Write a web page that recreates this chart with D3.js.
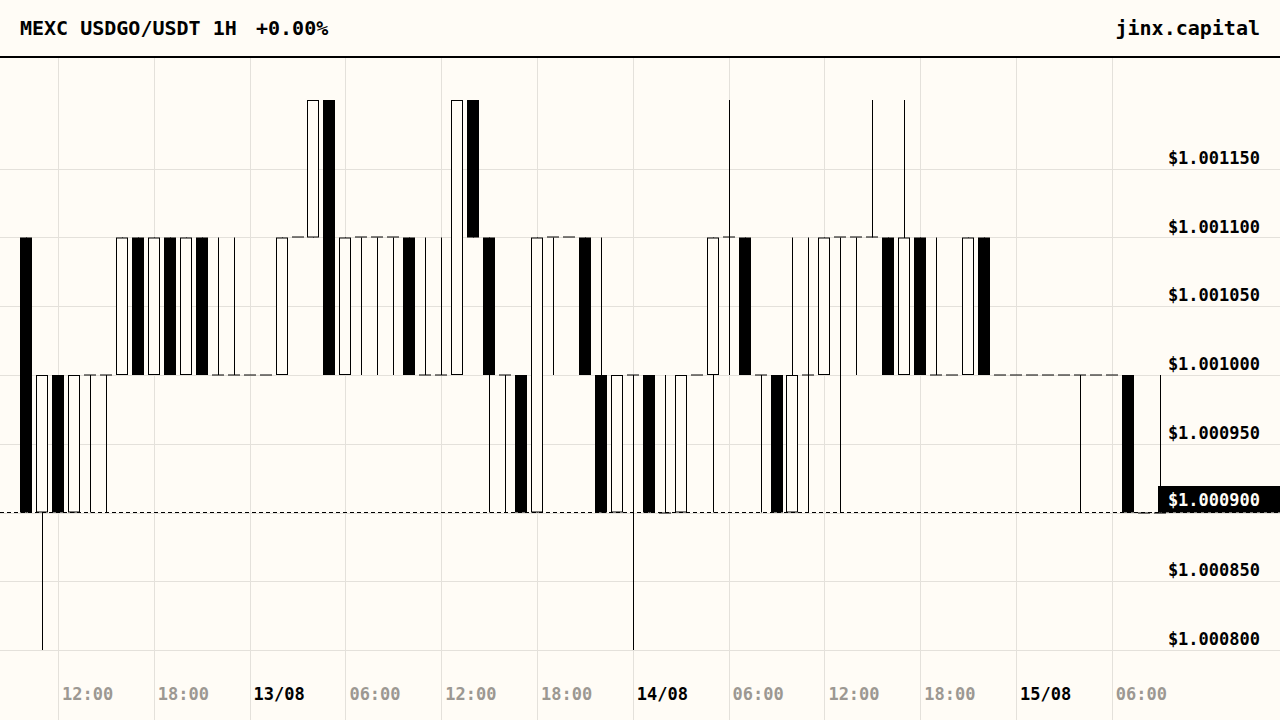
<!DOCTYPE html>
<html>
<head>
<meta charset="utf-8">
<script src="https://cdn.jsdelivr.net/npm/d3@7"></script>
<style>
  html, body { margin: 0; padding: 0; background: #fffcf6; }
  svg { display: block; }
  text { font-family: "DejaVu Sans Mono", monospace; font-weight: bold; }
</style>
</head>
<body>
<div id="chart"></div>
<script>
// hourly candles, 12/08 10:00 -> 15/08 09:00 (UTC)
var startTime = Date.UTC(2025, 7, 12, 10);
var open = [
  1.0011, 1.0009, 1.0010, 1.0009, 1.0010, 1.0010, 1.0010, 1.0011, 1.0010, 1.0011,
  1.0010, 1.0011, 1.0010, 1.0010, 1.0010, 1.0010, 1.0010, 1.0011, 1.0011, 1.0012,
  1.0010, 1.0011, 1.0011, 1.0011, 1.0011, 1.0010, 1.0010, 1.0010, 1.0012, 1.0011,
  1.0010, 1.0010, 1.0009, 1.0011, 1.0011, 1.0011, 1.0010, 1.0009, 1.0010, 1.0010,
  1.0009, 1.0009, 1.0010, 1.0010, 1.0011, 1.0011, 1.0010, 1.0010, 1.0009, 1.0010,
  1.0010, 1.0011, 1.0011, 1.0011, 1.0011, 1.0010, 1.0011, 1.0010, 1.0010, 1.0010,
  1.0011, 1.0010, 1.0010, 1.0010, 1.0010, 1.0010, 1.0010, 1.0010, 1.0010, 1.0010,
  1.0009, 1.0009
];
var high = [
  1.0011, 1.0010, 1.0010, 1.0010, 1.0010, 1.0010, 1.0011, 1.0011, 1.0011, 1.0011,
  1.0011, 1.0011, 1.0011, 1.0011, 1.0010, 1.0010, 1.0011, 1.0011, 1.0012, 1.0012,
  1.0011, 1.0011, 1.0011, 1.0011, 1.0011, 1.0011, 1.0011, 1.0012, 1.0012, 1.0011,
  1.0010, 1.0010, 1.0011, 1.0011, 1.0011, 1.0011, 1.0011, 1.0010, 1.0010, 1.0010,
  1.0010, 1.0010, 1.0010, 1.0011, 1.0012, 1.0011, 1.0010, 1.0010, 1.0011, 1.0011,
  1.0011, 1.0011, 1.0011, 1.0012, 1.0011, 1.0012, 1.0011, 1.0011, 1.0010, 1.0011,
  1.0011, 1.0010, 1.0010, 1.0010, 1.0010, 1.0010, 1.0010, 1.0010, 1.0010, 1.0010,
  1.0009, 1.0010
];
var low = [
  1.0009, 1.0008, 1.0009, 1.0009, 1.0009, 1.0009, 1.0010, 1.0010, 1.0010, 1.0010,
  1.0010, 1.0010, 1.0010, 1.0010, 1.0010, 1.0010, 1.0010, 1.0011, 1.0011, 1.0010,
  1.0010, 1.0010, 1.0010, 1.0010, 1.0010, 1.0010, 1.0010, 1.0010, 1.0011, 1.0009,
  1.0009, 1.0009, 1.0009, 1.0010, 1.0011, 1.0010, 1.0009, 1.0009, 1.0008, 1.0009,
  1.0009, 1.0009, 1.0010, 1.0009, 1.0010, 1.0010, 1.0009, 1.0009, 1.0009, 1.0009,
  1.0010, 1.0009, 1.0010, 1.0011, 1.0010, 1.0010, 1.0010, 1.0010, 1.0010, 1.0010,
  1.0010, 1.0010, 1.0010, 1.0010, 1.0010, 1.0010, 1.0009, 1.0010, 1.0010, 1.0009,
  1.0009, 1.0009
];
var close = [
  1.0009, 1.0010, 1.0009, 1.0010, 1.0010, 1.0010, 1.0011, 1.0010, 1.0011, 1.0010,
  1.0011, 1.0010, 1.0010, 1.0010, 1.0010, 1.0010, 1.0011, 1.0011, 1.0012, 1.0010,
  1.0011, 1.0011, 1.0011, 1.0011, 1.0010, 1.0010, 1.0010, 1.0012, 1.0011, 1.0010,
  1.0010, 1.0009, 1.0011, 1.0011, 1.0011, 1.0010, 1.0009, 1.0010, 1.0010, 1.0009,
  1.0009, 1.0010, 1.0010, 1.0011, 1.0011, 1.0010, 1.0010, 1.0009, 1.0010, 1.0010,
  1.0011, 1.0011, 1.0011, 1.0011, 1.0010, 1.0011, 1.0010, 1.0010, 1.0010, 1.0011,
  1.0010, 1.0010, 1.0010, 1.0010, 1.0010, 1.0010, 1.0010, 1.0010, 1.0010, 1.0009,
  1.0009, 1.0009
];
var priceTicks = [1.00080, 1.00085, 1.00090, 1.00095, 1.00100, 1.00105, 1.00110, 1.00115];
var title = "MEXC USDGO/USDT 1H";
var change = "+0.00%";
var brand = "jinx.capital";

var data = open.map(function (o, i) {
  return { t: new Date(startTime + i * 3600e3), o: o, h: high[i], l: low[i], c: close[i] };
});

var W = 1280, H = 720;
var bg = "#fffcf6", grid = "#e4e1db", muted = "#9c9892";
var plotTop = 58;

var svg = d3.select("#chart").append("svg")
  .attr("width", W).attr("height", H);
svg.append("rect").attr("width", W).attr("height", H).attr("fill", bg);

// scales
var x = d3.scaleUtc()
  .domain([new Date(Date.UTC(2025, 7, 12, 12)), new Date(Date.UTC(2025, 7, 15, 6))])
  .range([58, 1111.8]);
var y = d3.scaleLinear()
  .domain([1.0008, 1.0012])
  .range([650, 100]);
var bodyW = 12;

function px(v) { return Math.round(v) + 0.5; }

// time grid + labels
var timeTicks = d3.utcHour.every(6).range(x.invert(0), data[data.length - 1].t);
var xg = svg.append("g");
xg.selectAll("line").data(timeTicks).join("line")
  .attr("x1", function (d) { return px(x(d)); })
  .attr("x2", function (d) { return px(x(d)); })
  .attr("y1", plotTop).attr("y2", H)
  .attr("stroke", grid).attr("stroke-width", 1);
xg.selectAll("text").data(timeTicks).join("text")
  .attr("x", function (d) { return x(d) + 4; })
  .attr("y", 700)
  .attr("font-size", 17)
  .attr("fill", function (d) { return d.getUTCHours() === 0 ? "#000" : muted; })
  .text(function (d) {
    return d.getUTCHours() === 0 ? d3.utcFormat("%d/%m")(d) : d3.utcFormat("%H:%M")(d);
  });

// price grid
var yg = svg.append("g");
yg.selectAll("line").data(priceTicks).join("line")
  .attr("x1", 0).attr("x2", W)
  .attr("y1", function (d) { return px(y(d)); })
  .attr("y2", function (d) { return px(y(d)); })
  .attr("stroke", grid).attr("stroke-width", 1);

// candles
var candles = svg.append("g").selectAll("g").data(data).join("g")
  .attr("transform", function (d) { return "translate(" + px(x(d.t)) + ",0)"; });

candles.filter(function (d) { return d.h !== d.l; })
  .append("line")
  .attr("y1", function (d) { return y(d.h); })
  .attr("y2", function (d) { return y(d.l); })
  .attr("stroke", "#000").attr("stroke-width", 1);

candles.filter(function (d) { return d.o !== d.c; })
  .append("rect")
  .attr("x", function (d) { return d.c > d.o ? -bodyW / 2 : -bodyW / 2 - 0.5; })
  .attr("width", function (d) { return d.c > d.o ? bodyW - 1 : bodyW; })
  .attr("y", function (d) { return y(Math.max(d.o, d.c)) + (d.c > d.o ? 0.5 : 0); })
  .attr("height", function (d) { return Math.abs(y(d.o) - y(d.c)) - (d.c > d.o ? 1 : 0); })
  .attr("fill", function (d) { return d.c > d.o ? bg : "#000"; })
  .attr("stroke", function (d) { return d.c > d.o ? "#000" : "none"; })
  .attr("stroke-width", 1);

candles.filter(function (d) { return d.o === d.c; })
  .append("line")
  .attr("x1", -bodyW / 2 - 0.5).attr("x2", bodyW / 2 - 0.5)
  .attr("y1", function (d) { return px(y(d.o)) - 0.5; })
  .attr("y2", function (d) { return px(y(d.o)) - 0.5; })
  .attr("stroke", "#000").attr("stroke-width", 1);

// price labels
svg.append("g").selectAll("text").data(priceTicks).join("text")
  .attr("x", 1260).attr("y", function (d) { return y(d) - 5; })
  .attr("text-anchor", "end")
  .attr("font-size", 17)
  .attr("fill", "#000")
  .text(function (d) { return "$" + d.toFixed(6); });

// last price line + tag
var last = data[data.length - 1].c;
svg.append("line")
  .attr("x1", 0).attr("x2", W)
  .attr("y1", y(last)).attr("y2", y(last))
  .attr("stroke", "#000").attr("stroke-width", 1)
  .attr("stroke-dasharray", "4,3");
svg.append("rect")
  .attr("x", 1158).attr("width", W - 1158)
  .attr("y", y(last) - 26.5).attr("height", 26.5)
  .attr("fill", "#000");
svg.append("text")
  .attr("x", 1260).attr("y", y(last) - 7)
  .attr("text-anchor", "end")
  .attr("font-size", 17)
  .attr("fill", bg)
  .text("$" + last.toFixed(6));

// header
svg.append("rect").attr("x", 0).attr("y", 0).attr("width", W).attr("height", 56).attr("fill", bg);
svg.append("rect").attr("x", 0).attr("y", 56).attr("width", W).attr("height", 2).attr("fill", "#000");
svg.append("text").attr("x", 20).attr("y", 35).attr("font-size", 20).attr("fill", "#000").text(title);
svg.append("text").attr("x", 256).attr("y", 35).attr("font-size", 20).attr("fill", "#000").text(change);
svg.append("text").attr("x", 1260).attr("y", 35).attr("text-anchor", "end")
  .attr("font-size", 20).attr("fill", "#000").text(brand);
</script>
</body>
</html>
